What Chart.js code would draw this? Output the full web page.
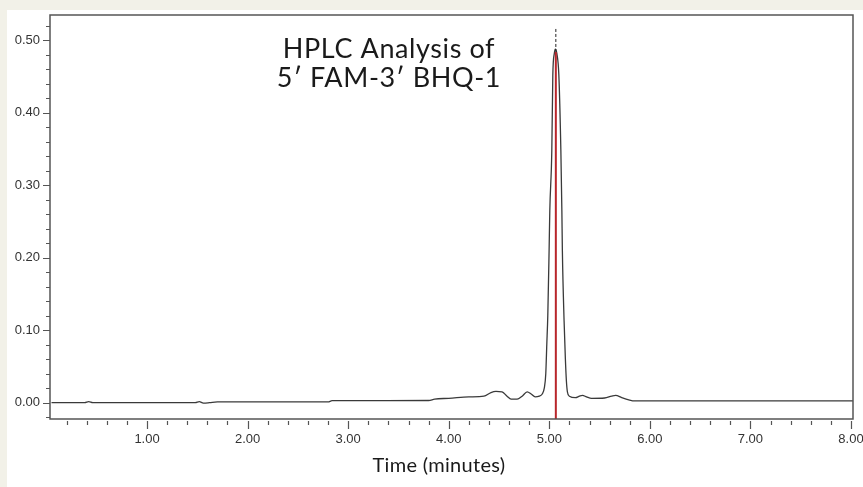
<!DOCTYPE html>
<html>
<head>
<meta charset="utf-8">
<script src="https://cdn.jsdelivr.net/npm/chart.js@4"></script>
<style>
  html, body { margin: 0; padding: 0; background: #f3f1e7; }
  #wrap { width: 863px; height: 487px; }
</style>
</head>
<body>
<div id="wrap"><canvas id="myChart" width="863" height="487"></canvas></div>
<script>
// DATA
const times = [0.05, 0.38, 0.42, 0.46, 1.48, 1.52, 1.56, 1.62, 1.70, 2.80, 2.84, 3.80, 3.86, 4.00, 4.20,
  4.35, 4.42, 4.47, 4.53, 4.58, 4.62, 4.68, 4.73, 4.78, 4.82, 4.86, 4.90, 4.93, 4.95, 4.965,
  4.975, 4.985, 4.998, 5.005, 5.025, 5.035, 5.05, 5.06, 5.075, 5.095, 5.115, 5.125, 5.13, 5.147,
  5.16, 5.17, 5.18, 5.20, 5.26, 5.30, 5.33, 5.37, 5.42, 5.55, 5.62, 5.66, 5.72, 5.79, 5.85, 8.02];
const absorbance = [0.000, 0.000, 0.0015, 0.000, 0.000, 0.0015, -0.0005, 0.000, 0.001, 0.001, 0.0028, 0.003, 0.005, 0.006, 0.008,
  0.009, 0.014, 0.0155, 0.015, 0.009, 0.005, 0.005, 0.009, 0.015, 0.012, 0.008, 0.009, 0.012, 0.020, 0.040,
  0.080, 0.120, 0.210, 0.265, 0.348, 0.452, 0.482, 0.488, 0.482, 0.452, 0.348, 0.265, 0.210, 0.113,
  0.060, 0.030, 0.015, 0.009, 0.007, 0.009, 0.010, 0.008, 0.006, 0.0065, 0.009, 0.010, 0.007, 0.004, 0.0025, 0.0025];
const peakTime = 5.065;
const markerValues = [-0.0225, 0.484];
const dashValues = [0.484, 0.518];
const xRange = [0.035, 8.02];
const yRange = [-0.0225, 0.535];
const titleLines = ['HPLC Analysis of', '5\u2032 FAM-3\u2032 BHQ-1'];
const xTitle = 'Time (minutes)';

const trace = times.map((t, i) => ({x: t, y: absorbance[i]}));

// background + box + tick marks + texts
const decor = {
  id: 'decor',
  beforeDraw(chart) {
    const c = chart.ctx;
    c.save();
    c.fillStyle = '#f2f1e8';
    c.fillRect(0, 0, chart.width, chart.height);
    c.fillStyle = '#ffffff';
    c.fillRect(7, 10, chart.width - 7, chart.height - 10);
    c.restore();
  },
  afterDraw(chart) {
    const c = chart.ctx;
    const a = chart.chartArea;
    const xs = chart.scales.x, ys = chart.scales.y;
    c.save();
    c.strokeStyle = '#555';
    c.lineWidth = 1.5;
    c.strokeRect(a.left, a.top, a.right - a.left, a.bottom - a.top);
    c.lineWidth = 1.2;
    c.beginPath();
    xs.ticks.forEach(tk => {
      const px = Math.round(xs.getPixelForValue(tk.value)) + 0.5;
      const major = Math.abs(tk.value - Math.round(tk.value)) < 1e-6;
      c.moveTo(px, a.bottom + 2);
      c.lineTo(px, a.bottom + (major ? 10 : 6));
    });
    ys.ticks.forEach(tk => {
      const py = Math.round(ys.getPixelForValue(tk.value)) + 0.5;
      const major = Math.abs(tk.value * 10 - Math.round(tk.value * 10)) < 1e-6;
      c.moveTo(a.left - (major ? 7 : 4), py);
      c.lineTo(a.left, py);
    });
    c.stroke();

    c.fillStyle = '#1a1a1a';
    c.textAlign = 'center';
    c.textBaseline = 'alphabetic';
    c.letterSpacing = '0.6px';
    c.font = '27px Lato';
    c.fillText(titleLines[0], 389, 58);
    c.fillText(titleLines[1], 389, 87);
    c.letterSpacing = '0.3px';
    c.font = '20px Lato';
    c.fillText(xTitle, 439, 472);
    c.restore();
  }
};

const config = {
  type: 'line',
  data: {
    datasets: [
      {
        data: trace,
        borderColor: '#3a3a3a',
        borderWidth: 1.3,
        pointRadius: 0,
        cubicInterpolationMode: 'monotone',
        order: 2
      },
      {
        data: markerValues.map(v => ({x: peakTime, y: v})),
        borderColor: '#b8262b',
        borderWidth: 2,
        pointRadius: 0,
        order: 1
      },
      {
        data: dashValues.map(v => ({x: peakTime, y: v})),
        borderColor: '#222',
        borderWidth: 1,
        borderDash: [3, 2],
        pointRadius: 0,
        order: 0
      }
    ]
  },
  options: {
    responsive: false,
    animation: false,
    layout: { padding: { top: 15, right: 10, left: 0, bottom: 0 } },
    plugins: { legend: { display: false }, tooltip: { enabled: false } },
    scales: {
      x: {
        type: 'linear',
        min: xRange[0],
        max: xRange[1],
        afterFit(s) { s.height = 68; s.paddingLeft = 0; s.paddingRight = 0; },
        grid: { display: false, drawTicks: false },
        border: { display: false },
        ticks: {
          stepSize: 0.2,
          includeBounds: false,
          autoSkip: false,
          maxRotation: 0,
          padding: 13,
          color: '#333',
          font: { family: 'Liberation Sans', size: 13 },
          callback: v => Math.abs(v - Math.round(v)) < 1e-6 ? v.toFixed(2) : ''
        }
      },
      y: {
        min: yRange[0],
        max: yRange[1],
        afterFit(s) { s.width = 50; s.paddingTop = 0; s.paddingBottom = 0; },
        grid: { display: false, drawTicks: false },
        border: { display: false },
        ticks: {
          stepSize: 0.02,
          includeBounds: false,
          autoSkip: false,
          padding: 10,
          color: '#333',
          font: { family: 'Liberation Sans', size: 13 },
          callback: v => Math.abs(v * 10 - Math.round(v * 10)) < 1e-6 ? v.toFixed(2) : ''
        }
      }
    }
  },
  plugins: [decor]
};

let myChart = new Chart(document.getElementById('myChart'), config);
</script>
</body>
</html>
